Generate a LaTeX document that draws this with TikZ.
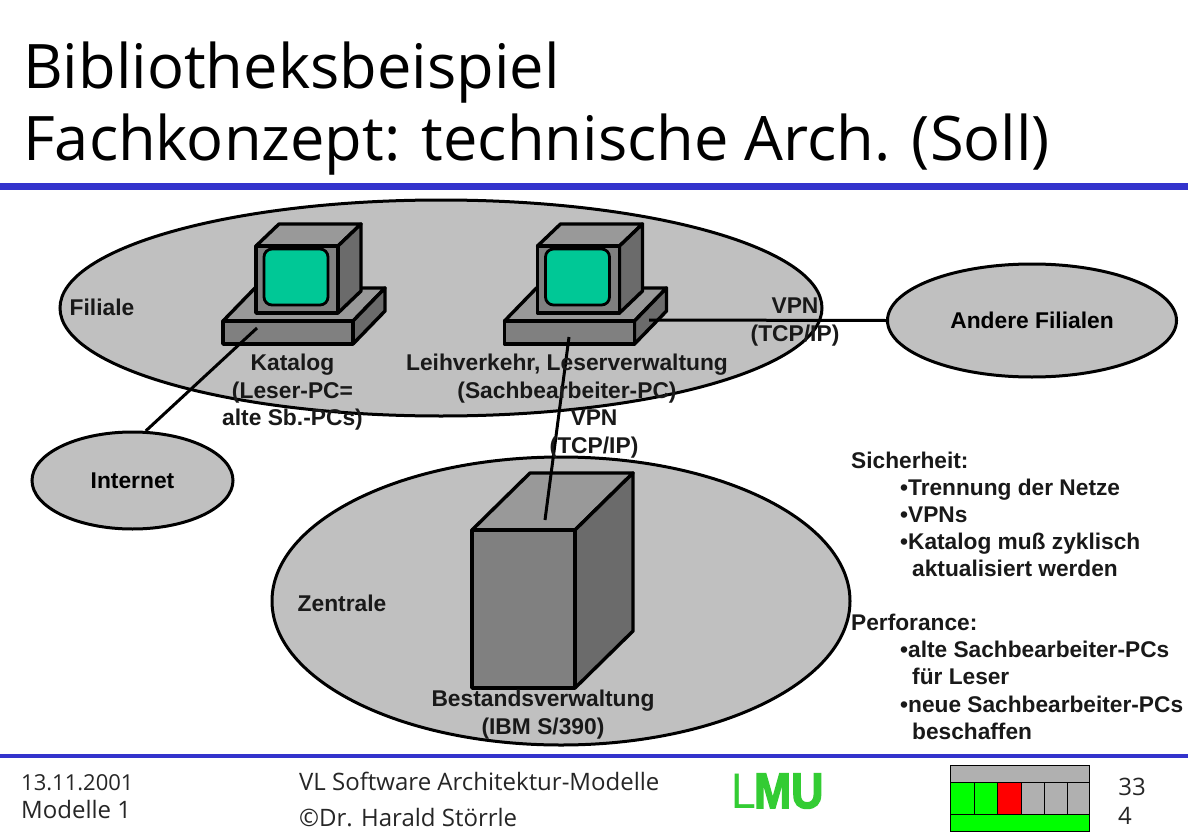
\documentclass[tikz,border=0pt]{standalone}
\usepackage{fontspec}
\setmainfont{Liberation Sans}
\newfontfamily\titlefont{Open Sans}
\newfontfamily\logoL{Liberation Sans}
\newfontfamily\logoB[FakeBold=3]{Liberation Sans Bold}
\usetikzlibrary{shapes.geometric}
\definecolor{barblue}{HTML}{3333CC}
\definecolor{ellgray}{HTML}{C0C0C0}
\definecolor{scr}{HTML}{00C896}
\definecolor{navgray}{HTML}{B0B0B0}
\definecolor{navgreen}{HTML}{00FF00}
\definecolor{logogreen}{HTML}{33CC33}
\tikzset{
  x=1pt,y=-1pt,
  region/.style={shape=ellipse,draw=black,line width=3pt,fill=ellgray,inner sep=0pt,font=\bfseries\fontsize{22.8}{27.5}\selectfont},
  solid3d/.style={draw=black,line width=3.4pt,line join=round},
  frontface/.style={solid3d,fill=black!50},
  topface/.style={solid3d,fill=black!40},
  sideface/.style={solid3d,fill=black!58},
  screenface/.style={draw=black,line width=2.8pt,fill=scr,rounded corners=8pt},
  lbl/.style={font=\bfseries\fontsize{22.8}{27.5}\selectfont,align=center,inner sep=0pt,text=black!90},
  link/.style={draw=black,line width=3pt},
  bar/.style={fill=barblue,draw=none},
  foot/.style={font=\titlefont\fontsize{24}{36}\selectfont,anchor=base west,inner sep=0pt,text=black!85},
  nav/.style={draw=black,line width=0.8pt},
}
\newcommand{\computer}[1]{%
  \begin{scope}[xshift=#1]
    \draw[topface] (223,321)--(353,321)--(385,288)--(255,288)--cycle;
    \draw[sideface] (353,321)--(385,288)--(385,311)--(353,344)--cycle;
    \draw[frontface] (223,321) rectangle (353,344);
    \draw[topface] (256,246)--(338,246)--(361,224)--(279,224)--cycle;
    \draw[sideface] (338,246)--(361,224)--(361,291)--(338,313)--cycle;
    \draw[frontface] (256,246) rectangle (338,313);
    \draw[screenface] (264,249) rectangle (328,305);
  \end{scope}}
\begin{document}
\begin{tikzpicture}
\useasboundingbox (0,0) rectangle (1188,840);
\fill[white] (0,0) rectangle (1188,840);
% title
\node[font=\titlefont\fontsize{61.4}{72}\selectfont,align=left,anchor=north west,inner sep=0pt] (title) at (23,42) {Bibliotheksbeispiel\\Fachkonzept: technische Arch. (Soll)};
\fill[bar] (0,183) rectangle (1188,190);
\fill[bar] (0,754) rectangle (1188,758);
% regions
\node[region,minimum width=762pt,minimum height=216pt] (filiale) at (441,308) {};
\node[region,minimum width=578pt,minimum height=288pt] (zentrale) at (561,601) {};
\node[region,minimum width=201pt,minimum height=97pt] (internet) at (132.5,480.5) {Internet};
\node[region,minimum width=289pt,minimum height=113pt] (andere) at (1032,320.5) {Andere Filialen};
% computers
\computer{0}
\computer{281.5}
% server
\draw[topface] (472,530)--(575,530)--(633,473)--(530,473)--cycle;
\draw[sideface] (575,530)--(633,473)--(633,631)--(575,688)--cycle;
\draw[frontface] (472,530) rectangle (575,688);
% connector ends
\coordinate (katport) at (257,328);
\coordinate (leihport) at (569,337);
\coordinate (leihside) at (649,320);
\coordinate (hostport) at (545,520);
\draw[link] (internet.75) -- (katport);
\draw[link] (leihport) -- (hostport);
\draw[link] (leihside) -- (andere.west);
% labels
\node[lbl] (lfil) at (102,307) {Filiale};
\node[lbl] (lzen) at (342,603) {Zentrale};
\node[lbl] (lkat) at (292.5,392.5) {Katalog\\(Leser-PC=\\alte Sb.-PCs)};
\node[lbl] (lleih) at (567,378.5) {Leihverkehr, Leserverwaltung\\(Sachbearbeiter-PC)};
\node[lbl] (lvpna) at (795,322) {VPN\\(TCP/IP)};
\node[lbl] (lvpnb) at (594,434) {VPN\\(TCP/IP)};
\node[lbl] (lbest) at (543,714.5) {Bestandsverwaltung\\(IBM S/390)};
\node[lbl,align=left,anchor=north west,font=\bfseries\fontsize{22.7}{27.1}\selectfont] (lside) at (851,451.5) {%
Sicherheit:\\
\hspace*{49pt}•Trennung der Netze\\
\hspace*{49pt}•VPNs\\
\hspace*{49pt}•Katalog muß zyklisch\\
\hspace*{61pt}aktualisiert werden\\[27.1pt]
Perforance:\\
\hspace*{49pt}•alte Sachbearbeiter-PCs\\
\hspace*{61pt}für Leser\\
\hspace*{49pt}•neue Sachbearbeiter-PCs\\
\hspace*{61pt}beschaffen};
% footer
\node[foot,font=\titlefont\fontsize{22}{36}\selectfont] (fdate) at (21,790) {13.11.2001};
\node[foot] (fmod) at (21,818) {Modelle 1};
\node[foot] (fvl) at (299,790) {VL Software Architektur-Modelle};
\node[foot] (fdr) at (299,826) {©Dr. Harald Störrle};
\node[foot,anchor=base east] (fp) at (1146,795) {33};
\node[foot,anchor=base west] (fq) at (1118,824) {4};
% logo
\node[anchor=base west,inner sep=0pt,text=logogreen,font=\fontsize{50}{50}\selectfont] (logo) at (731,808) {\scalebox{0.89}[1]{\logoL L\kern-2pt\logoB MU}};
% navigation widget
\fill[navgray] (950,765) rectangle (1089,782);
\fill[navgreen] (950,782) rectangle (997,814);
\fill[red] (997,782) rectangle (1021,814);
\fill[navgray] (1021,782) rectangle (1089,814);
\fill[navgreen] (950,814) rectangle (1089,831);
\draw[nav] (950,765) rectangle (1089,831);
\draw[nav] (950,782) -- (1089,782) (950,814) -- (1089,814);
\draw[nav] (974,782) -- (974,814) (997,782) -- (997,814) (1021,782) -- (1021,814) (1044,782) -- (1044,814) (1067,782) -- (1067,814);
\end{tikzpicture}
\end{document}
